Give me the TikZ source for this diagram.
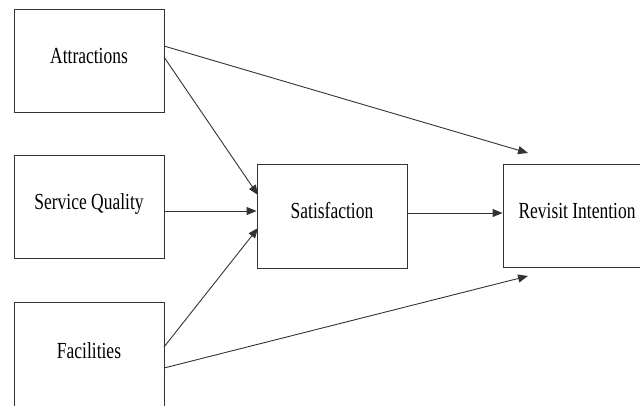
\documentclass[tikz,border=0pt]{standalone}
\usepackage{fontspec}
\newfontfamily\condserif[FakeStretch=0.76]{Liberation Serif}
\usetikzlibrary{arrows.meta,calc}
\begin{document}
\begin{tikzpicture}[x=1pt,y=1pt,
  boxnode/.style={draw=black!80,line width=0.9pt,minimum width=150pt,minimum height=103pt,inner sep=0pt,text height=5pt,text depth=0pt,font=\condserif\fontsize{23}{26}\selectfont},
  link/.style={draw=black!80,line width=0.9pt,-{Triangle[length=10pt,width=8pt]}}]
\useasboundingbox (0,0) rectangle (640,-405);
\node[boxnode] (attr) at (89,-60.5) {Attractions};
\node[boxnode] (serv) at (89,-206.5) {Service Quality};
\node[boxnode,minimum height=108pt] (faci) at (89,-356) {Facilities};
\node[boxnode,minimum height=104pt] (sat) at (332,-216) {Satisfaction};
\node[boxnode,minimum width=148pt] (rev) at (577,-215.5) {Revisit Intention};
\coordinate (a1) at (164,-46);
\coordinate (a2) at (164,-57);
\coordinate (f1) at (164,-347);
\coordinate (f2) at (164,-368);
\coordinate (revtop) at (528,-153);
\coordinate (revbot) at (528,-276);
\coordinate (sattop) at (258,-195);
\coordinate (satbot) at (258,-228);
\draw[link] (a1) -- (revtop);
\draw[link] (a2) -- (sattop);
\draw[link] (serv.east |- 0,-211) -- (sat.west |- 0,-211);
\draw[link] (f1) -- (satbot);
\draw[link] (f2) -- (revbot);
\draw[link] (sat.east |- 0,-213) -- (rev.west |- 0,-213);
\end{tikzpicture}
\end{document}
